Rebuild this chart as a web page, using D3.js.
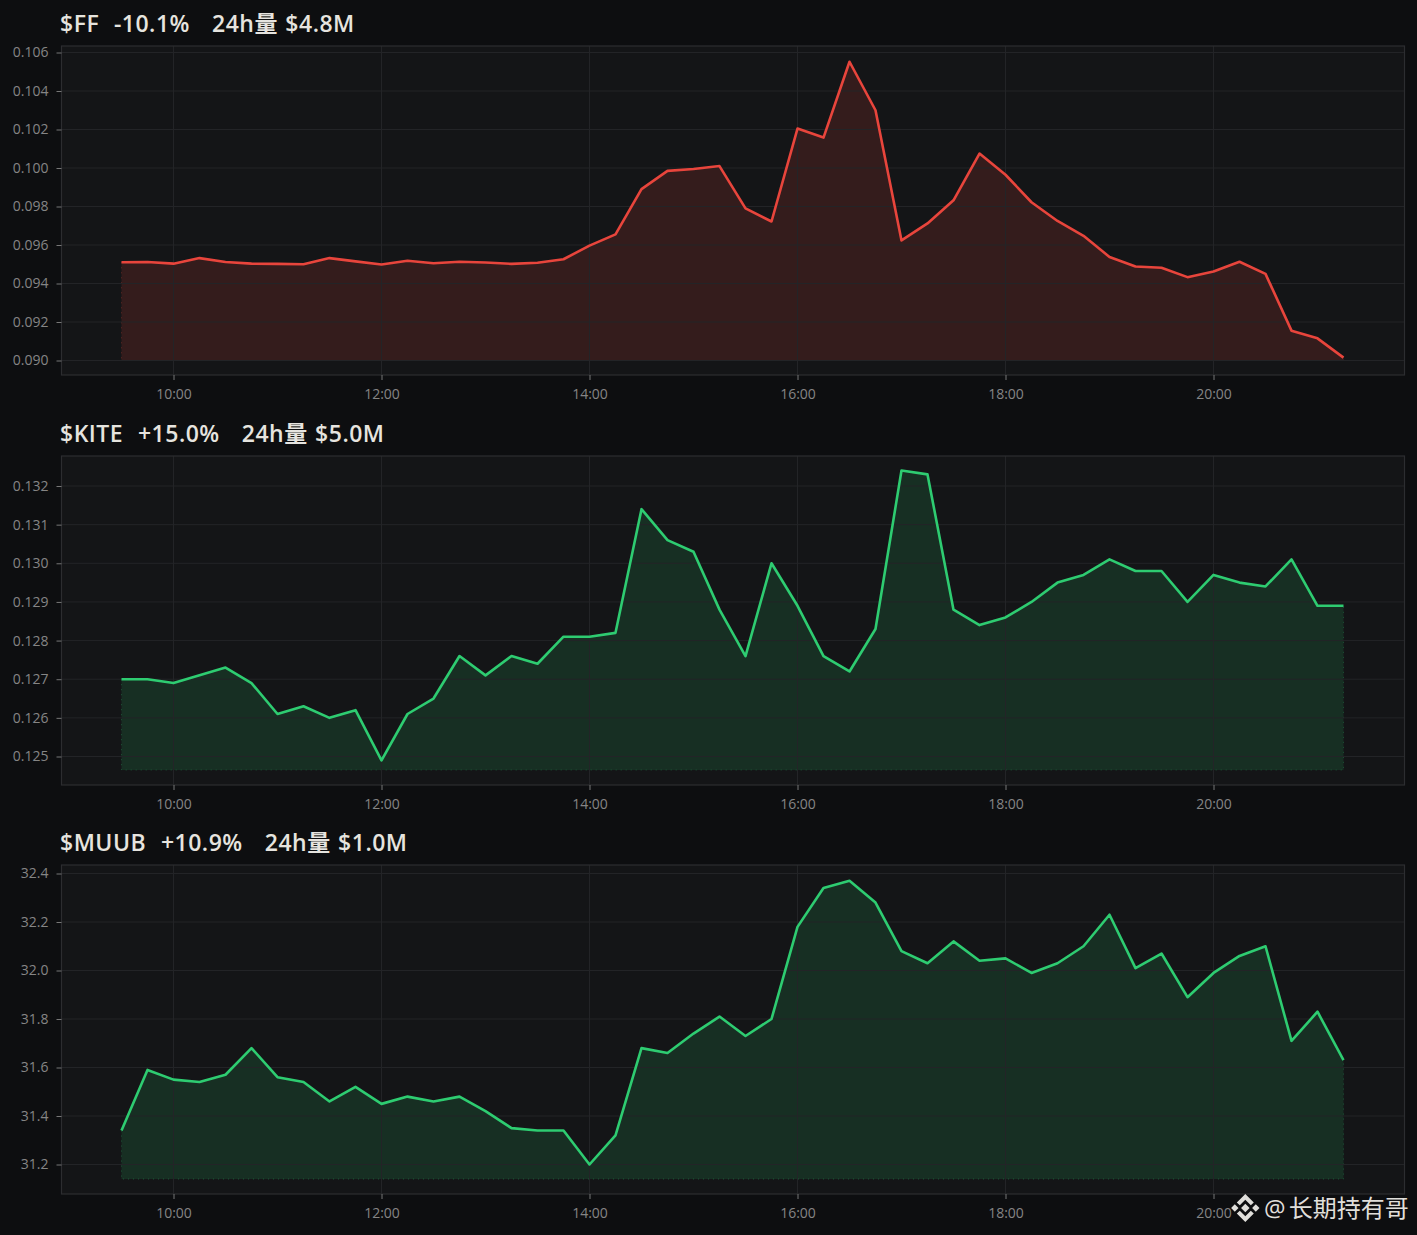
<!DOCTYPE html>
<html>
<head>
<meta charset="utf-8">
<style>
  html, body { margin: 0; padding: 0; background: #0d0e10; }
  svg { display: block; }
  text { font-family: "Open Sans", "Noto Sans CJK SC", sans-serif; }
</style>
<script src="https://cdn.jsdelivr.net/npm/d3@7"></script>
</head>
<body>
<svg id="chart" width="1417" height="1235"></svg>
<script>
// Chart data
const times = [
  "09:30", "09:45", "10:00", "10:15", "10:30", "10:45", "11:00", "11:15",
  "11:30", "11:45", "12:00", "12:15", "12:30", "12:45", "13:00", "13:15",
  "13:30", "13:45", "14:00", "14:15", "14:30", "14:45", "15:00", "15:15",
  "15:30", "15:45", "16:00", "16:15", "16:30", "16:45", "17:00", "17:15",
  "17:30", "17:45", "18:00", "18:15", "18:30", "18:45", "19:00", "19:15",
  "19:30", "19:45", "20:00", "20:15", "20:30", "20:45", "21:00", "21:15"
];
const timeTicks = ["10:00", "12:00", "14:00", "16:00", "18:00", "20:00"];

const ffValues = [
  0.0951, 0.09512, 0.09503, 0.09532, 0.09512, 0.09503, 0.09502, 0.095,
  0.09532, 0.09515, 0.09499, 0.09518, 0.09505, 0.09513, 0.09509, 0.09502,
  0.09508, 0.09526, 0.09597, 0.09655, 0.0989, 0.09985, 0.09995, 0.1001,
  0.0979, 0.09722, 0.10205, 0.10158, 0.10552, 0.103, 0.09624, 0.09712,
  0.09832, 0.10075, 0.09965, 0.09822, 0.09725, 0.09648, 0.09538, 0.09488,
  0.09482, 0.09433, 0.09462, 0.09513, 0.0945, 0.09155, 0.09115, 0.09015
];
const kiteValues = [
  0.1270, 0.1270, 0.1269, 0.1271, 0.1273, 0.1269, 0.1261, 0.1263,
  0.1260, 0.1262, 0.1249, 0.1261, 0.1265, 0.1276, 0.1271, 0.1276,
  0.1274, 0.1281, 0.1281, 0.1282, 0.1314, 0.1306, 0.1303, 0.1288,
  0.1276, 0.1300, 0.1289, 0.1276, 0.1272, 0.1283, 0.1324, 0.1323,
  0.1288, 0.1284, 0.1286, 0.1290, 0.1295, 0.1297, 0.1301, 0.1298,
  0.1298, 0.1290, 0.1297, 0.1295, 0.1294, 0.1301, 0.1289, 0.1289
];
const muubValues = [
  31.34, 31.59, 31.55, 31.54, 31.57, 31.68, 31.56, 31.54,
  31.46, 31.52, 31.45, 31.48, 31.46, 31.48, 31.42, 31.35,
  31.34, 31.34, 31.20, 31.32, 31.68, 31.66, 31.74, 31.81,
  31.73, 31.80, 32.18, 32.34, 32.37, 32.28, 32.08, 32.03,
  32.12, 32.04, 32.05, 31.99, 32.03, 32.10, 32.23, 32.01,
  32.07, 31.89, 31.99, 32.06, 32.10, 31.71, 31.83, 31.63
];

const ffTicks = [0.090, 0.092, 0.094, 0.096, 0.098, 0.100, 0.102, 0.104, 0.106];
const kiteTicks = [0.125, 0.126, 0.127, 0.128, 0.129, 0.130, 0.131, 0.132];
const muubTicks = [31.2, 31.4, 31.6, 31.8, 32.0, 32.2, 32.4];

// Define constants
const red = "#e8453c";
const green = "#2ecc71";
const gridColor = "#232427";
const borderColor = "#2c2d30";
const tickColor = "#858585";
const panelFill = "#141517";
const left = 61.5;
const right = 1404.5;
const panelHeight = 329;

const parseTime = d3.timeParse("%H:%M");
const svg = d3.select("#chart");

const x = d3.scaleTime()
  .domain([parseTime("09:30"), parseTime("21:15")])
  .range([121.5, 1343.5]);

function drawPanel(p) {
  const g = svg.append("g");
  const bottom = p.top + panelHeight;

  // y range comes from two known tick positions in the picture
  const y = d3.scaleLinear().domain(p.yKnown).range(p.yPixels);

  g.append("rect")
    .attr("x", left).attr("y", p.top)
    .attr("width", right - left).attr("height", panelHeight)
    .attr("fill", panelFill);

  const area = d3.area()
    .x((d, i) => x(parseTime(times[i])))
    .y0(y(p.base))
    .y1(d => y(d));
  const line = d3.line()
    .x((d, i) => x(parseTime(times[i])))
    .y(d => y(d));

  g.append("path").attr("d", area(p.values)).attr("fill", p.color).attr("fill-opacity", p.fillOpacity);

  // dotted edge along the sides and bottom of the fill
  const first = p.values[0];
  const last = p.values[p.values.length - 1];
  const edge = d3.line().x(d => x(parseTime(d[0]))).y(d => y(d[1]));
  g.append("path")
    .attr("d", edge([[times[0], first], [times[0], p.base], [times[times.length - 1], p.base], [times[times.length - 1], last]]))
    .attr("fill", "none").attr("stroke", p.color).attr("stroke-opacity", 0.3)
    .attr("stroke-dasharray", "1 4");

  // grid sits on top of the fill
  g.selectAll("line.hgrid").data(p.ticks).enter().append("line")
    .attr("class", "hgrid")
    .attr("x1", left).attr("x2", right)
    .attr("y1", d => y(d)).attr("y2", d => y(d))
    .attr("stroke", gridColor);
  g.selectAll("line.vgrid").data(timeTicks).enter().append("line")
    .attr("class", "vgrid")
    .attr("x1", d => x(parseTime(d))).attr("x2", d => x(parseTime(d)))
    .attr("y1", p.top).attr("y2", bottom)
    .attr("stroke", gridColor);

  g.append("path").attr("d", line(p.values))
    .attr("fill", "none").attr("stroke", p.color).attr("stroke-width", 2.6)
    .attr("stroke-linejoin", "round");

  g.append("rect")
    .attr("x", left).attr("y", p.top)
    .attr("width", right - left).attr("height", panelHeight)
    .attr("fill", "none").attr("stroke", borderColor).attr("stroke-width", 1.2);

  const yAxis = d3.axisLeft(y).tickValues(p.ticks).tickFormat(d3.format(p.format)).tickSize(5).tickPadding(8);
  const yg = g.append("g").attr("transform", `translate(${left},0)`).call(yAxis);
  const xAxis = d3.axisBottom(x).tickValues(timeTicks.map(parseTime)).tickFormat(d3.timeFormat("%H:%M")).tickSize(5).tickPadding(9);
  const xg = g.append("g").attr("transform", `translate(0,${bottom})`).call(xAxis);

  [yg, xg].forEach(a => {
    a.select(".domain").remove();
    a.selectAll(".tick line").attr("stroke", "#777");
    a.selectAll(".tick text").attr("fill", tickColor).style("font-size", "14px");
  });

  g.append("text")
    .attr("x", 60).attr("y", p.top - 14)
    .attr("fill", "#e6e4df")
    .style("font-size", "23px")
    .style("font-weight", 600)
    .style("letter-spacing", "0.5px")
    .style("word-spacing", "0.9px")
    .style("white-space", "pre")
    .text(p.title);
}

drawPanel({ top: 46, title: "$FF  -10.1%   24h量 $4.8M", values: ffValues, ticks: ffTicks, color: red, fillOpacity: 0.155,
  base: 0.090, format: ".3f", yKnown: [0.090, 0.106], yPixels: [360.5, 52.5] });
drawPanel({ top: 456, title: "$KITE  +15.0%   24h量 $5.0M", values: kiteValues, ticks: kiteTicks, color: green, fillOpacity: 0.14,
  base: 0.12465, format: ".3f", yKnown: [0.125, 0.132], yPixels: [756.5, 486] });
drawPanel({ top: 865, title: "$MUUB  +10.9%   24h量 $1.0M", values: muubValues, ticks: muubTicks, color: green, fillOpacity: 0.14,
  base: 31.14, format: ".1f", yKnown: [31.2, 32.4], yPixels: [1164.5, 873.5] });

// Watermark: logo made of rotated squares, then the name
const logo = svg.append("g").attr("transform", "translate(1245.3,1208)").attr("fill", "#e0dfdb");
const logoSquares = [[0, 0, 3], [-10.5, 0, 2.6], [10.5, 0, 2.6]];
logo.selectAll("rect.dot").data(logoSquares).enter().append("rect")
  .attr("class", "dot")
  .attr("x", d => -d[2]).attr("y", d => -d[2])
  .attr("width", d => d[2] * 2).attr("height", d => d[2] * 2)
  .attr("transform", d => `translate(${d[0]},${d[1]}) rotate(45)`);
logo.selectAll("path").data([1, -1]).enter().append("path")
  .attr("d", d => `M-8.5 ${-5.5 * d} L0 ${-14 * d} L8.5 ${-5.5 * d} L5.5 ${-2.8 * d} L0 ${-8.2 * d} L-5.5 ${-2.8 * d} Z`);

svg.append("text")
  .attr("x", 1264).attr("y", 1217)
  .attr("fill", "#e0dfdb")
  .style("font-size", "24px")
  .style("word-spacing", "-3px")
  .text("@ 长期持有哥");
</script>
</body>
</html>
